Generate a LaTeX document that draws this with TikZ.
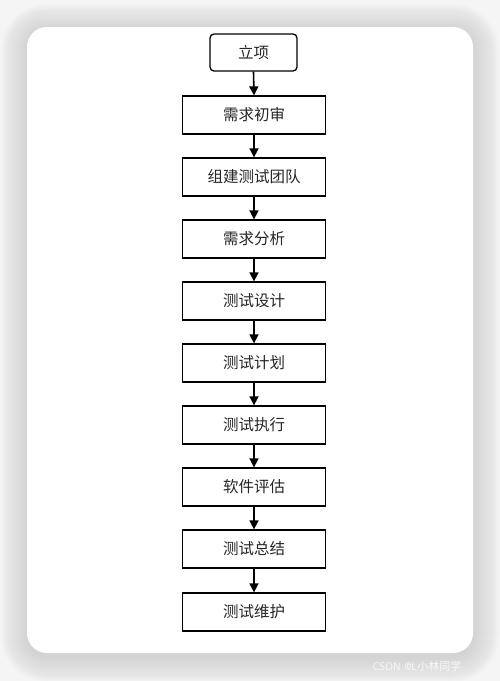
\documentclass[tikz,border=0pt]{standalone}
\usepackage{fontspec}
\newfontfamily\cjk{Noto Sans CJK SC}
\usetikzlibrary{arrows.meta}
\definecolor{bggray}{HTML}{F5F5F5}
\definecolor{shadowgray}{HTML}{C8C8C8}
\begin{document}
\begin{tikzpicture}[x=1pt,y=-1pt,
  stepbox/.style={draw=black, line width=1.3pt, fill=white, minimum width=143pt, minimum height=38pt, inner sep=0pt, font=\cjk\fontsize{15.5}{18}\selectfont, text=black!85},
  startbox/.style={stepbox, minimum width=87pt, minimum height=37pt, rounded corners=4pt},
  flow/.style={draw=black, line width=1.6pt, -{Triangle[length=9pt,width=9pt]}}]
\useasboundingbox (0,0) rectangle (500,681);
\fill[bggray] (0,0) rectangle (500,681);
% shadow
\foreach \i in {1,...,26}{
  \fill[shadowgray, opacity=0.03, rounded corners={20+\i}] ({27-\i},{27-\i+3}) rectangle ({473+\i},{653+\i+3});
}
\fill[white, rounded corners=20pt] (27,27) rectangle (473,653);
% nodes
\node[startbox] (n0) at (253.5,52.5) {立项};
\node[stepbox] (n1) at (254,115) {需求初审};
\node[stepbox] (n2) at (254,177) {组建测试团队};
\node[stepbox] (n3) at (254,239) {需求分析};
\node[stepbox] (n4) at (254,301) {测试设计};
\node[stepbox] (n5) at (254,363) {测试计划};
\node[stepbox] (n6) at (254,425) {测试执行};
\node[stepbox] (n7) at (254,487) {软件评估};
\node[stepbox] (n8) at (254,549) {测试总结};
\node[stepbox] (n9) at (254,612) {测试维护};
\foreach \a/\b in {n0/n1,n1/n2,n2/n3,n3/n4,n4/n5,n5/n6,n6/n7,n7/n8,n8/n9}{
  \draw[flow] (\a.south) -- (\b.north);
}
\node[text=white, opacity=0.8, anchor=west, font=\sffamily\fontsize{11}{13}\selectfont] (wm) at (369,666) {CSDN @L{\cjk 小林同学}};
\end{tikzpicture}
\end{document}
